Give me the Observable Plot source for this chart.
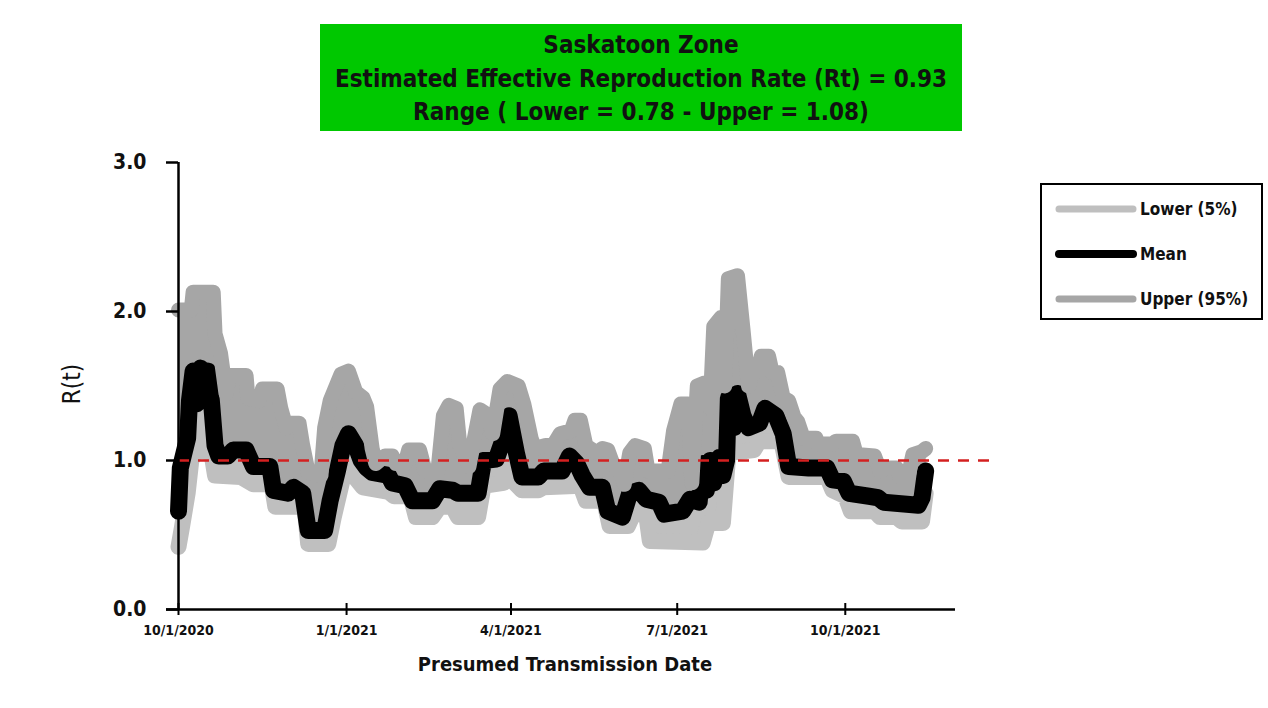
<!DOCTYPE html>
<html><head><meta charset="utf-8">
<script src="https://cdn.jsdelivr.net/npm/d3@7"></script>
<script src="https://cdn.jsdelivr.net/npm/@observablehq/plot@0.6"></script>
<style>
body{margin:0;background:#fff;width:1268px;height:708px;overflow:hidden;position:relative;font-family:"DejaVu Sans Condensed","Liberation Sans",sans-serif;color:#111;}
#title{position:absolute;left:320px;top:24px;width:642px;height:107px;background:#00c800;text-align:center;font-weight:bold;font-size:24px;line-height:33.5px;padding-top:5px;box-sizing:border-box;white-space:nowrap;}
#chart{position:absolute;left:0;top:0;}
#ylab{position:absolute;left:72px;top:384px;transform:translate(-50%,-50%) rotate(-90deg);font-size:24px;white-space:nowrap;}
#xlab{position:absolute;left:565px;top:664px;transform:translate(-50%,-50%);font-size:20px;font-weight:bold;white-space:nowrap;}
#legend{position:absolute;left:1040px;top:183px;width:223px;height:137px;border:2px solid #000;box-sizing:border-box;background:#fff;}
</style></head>
<body>
<div id="title"></div>
<div id="chart"></div>
<div id="ylab"></div>
<div id="xlab"></div>
<div id="legend"></div>
<script>
const titleLines = ["Saskatoon Zone", "Estimated Effective Reproduction Rate (Rt) = 0.93", "Range ( Lower = 0.78 - Upper = 1.08)"];
const yLabel = "R(t)";
const xLabel = "Presumed Transmission Date";
const yTicks = [0, 1, 2, 3];
const xTicks = ["2020-10-01", "2021-01-01", "2021-04-01", "2021-07-01", "2021-10-01"];
const xDomain = ["2020-10-01", "2021-11-30"];
const threshold = 1.0;
const seriesNames = ["Lower (5%)", "Mean", "Upper (95%)"];
const seriesColors = ["#bfbfbf", "#000000", "#a6a6a6"];

const upperPts = [
["2020-10-01",2.01],["2020-10-08",2.01],["2020-10-09",2.13],["2020-10-20",2.13],["2020-10-21",1.85],["2020-10-24",1.72],
["2020-10-27",1.45],["2020-10-29",1.57],["2020-11-07",1.57],["2020-11-08",1.42],["2020-11-14",1.40],["2020-11-16",1.48],
["2020-11-24",1.48],["2020-11-26",1.35],["2020-11-29",1.22],["2020-12-01",1.25],["2020-12-06",1.25],["2020-12-08",1.10],
["2020-12-11",0.92],["2020-12-18",0.90],["2020-12-20",1.22],["2020-12-23",1.40],["2020-12-29",1.58],["2021-01-02",1.60],
["2021-01-06",1.46],["2021-01-10",1.42],["2021-01-12",1.36],["2021-01-15",1.08],["2021-01-17",0.98],["2021-01-22",1.03],
["2021-01-26",1.03],["2021-01-28",0.98],["2021-02-02",0.98],["2021-02-04",1.07],["2021-02-10",1.07],["2021-02-13",0.93],
["2021-02-20",0.93],["2021-02-23",1.30],["2021-02-26",1.37],["2021-03-02",1.35],["2021-03-04",1.10],["2021-03-09",0.96],
["2021-03-12",1.15],["2021-03-15",1.34],["2021-03-20",1.30],["2021-03-22",1.18],["2021-03-26",1.48],["2021-03-30",1.53],
["2021-04-05",1.50],["2021-04-08",1.38],["2021-04-12",1.15],["2021-04-14",1.08],["2021-04-20",1.10],["2021-04-24",1.10],
["2021-04-28",1.18],["2021-05-04",1.20],["2021-05-06",1.27],["2021-05-09",1.27],["2021-05-12",1.10],["2021-05-18",1.05],
["2021-05-21",1.08],["2021-05-24",1.07],["2021-05-27",0.97],["2021-05-31",0.92],["2021-06-02",0.84],["2021-06-05",1.05],
["2021-06-08",1.10],["2021-06-13",1.08],["2021-06-15",0.93],["2021-06-26",0.93],["2021-06-29",1.20],["2021-07-03",1.38],
["2021-07-07",1.38],["2021-07-09",0.85],["2021-07-12",1.50],["2021-07-16",1.52],["2021-07-19",1.35],["2021-07-21",1.90],
["2021-07-25",1.96],["2021-07-27",1.50],["2021-07-29",2.22],["2021-08-03",2.24],["2021-08-06",1.88],["2021-08-09",1.50],
["2021-08-11",1.58],["2021-08-14",1.60],["2021-08-16",1.70],["2021-08-20",1.70],["2021-08-22",1.59],["2021-08-25",1.59],
["2021-08-28",1.42],["2021-08-31",1.40],["2021-09-03",1.29],["2021-09-05",1.26],["2021-09-08",1.15],["2021-09-15",1.15],
["2021-09-16",1.11],["2021-09-24",1.11],["2021-09-26",1.13],["2021-10-05",1.13],["2021-10-07",1.04],["2021-10-17",1.03],
["2021-10-20",0.93],["2021-10-24",0.95],["2021-10-29",0.95],["2021-10-31",0.89],["2021-11-04",0.87],["2021-11-07",1.04],
["2021-11-12",1.06],["2021-11-14",1.08]
];

const meanPts = [
["2020-10-01",0.66],["2020-10-02",0.95],["2020-10-04",1.05],["2020-10-06",1.15],["2020-10-07",1.40],["2020-10-09",1.60],
["2020-10-11",1.38],["2020-10-13",1.62],["2020-10-15",1.45],["2020-10-17",1.60],["2020-10-19",1.40],["2020-10-21",1.10],
["2020-10-23",1.03],["2020-10-28",1.03],["2020-10-31",1.07],["2020-11-07",1.07],["2020-11-11",0.96],["2020-11-20",0.96],
["2020-11-22",0.80],["2020-11-30",0.78],["2020-12-03",0.82],["2020-12-08",0.78],["2020-12-11",0.53],["2020-12-20",0.53],
["2020-12-23",0.73],["2020-12-27",0.93],["2020-12-30",1.10],["2021-01-02",1.18],["2021-01-06",1.10],["2021-01-09",1.00],
["2021-01-12",0.95],["2021-01-15",0.92],["2021-01-24",0.90],["2021-01-26",0.85],["2021-02-02",0.83],["2021-02-06",0.73],
["2021-02-17",0.73],["2021-02-21",0.81],["2021-02-28",0.80],["2021-03-03",0.78],["2021-03-14",0.78],["2021-03-17",1.00],
["2021-03-24",1.01],["2021-03-28",1.15],["2021-03-31",1.30],["2021-04-04",1.05],["2021-04-07",0.89],["2021-04-16",0.89],
["2021-04-19",0.93],["2021-04-29",0.93],["2021-05-03",1.03],["2021-05-07",0.98],["2021-05-10",0.90],["2021-05-14",0.82],
["2021-05-21",0.82],["2021-05-24",0.66],["2021-06-01",0.62],["2021-06-05",0.78],["2021-06-10",0.80],["2021-06-14",0.74],
["2021-06-21",0.72],["2021-06-24",0.64],["2021-07-04",0.66],["2021-07-08",0.74],["2021-07-13",0.72],["2021-07-15",0.98],
["2021-07-17",0.80],["2021-07-19",1.00],["2021-07-21",0.85],["2021-07-24",1.02],["2021-07-26",0.90],["2021-07-28",1.00],
["2021-07-29",1.42],["2021-08-01",1.22],["2021-08-03",1.45],["2021-08-06",1.30],["2021-08-09",1.22],
["2021-08-15",1.25],["2021-08-18",1.35],["2021-08-24",1.30],["2021-08-28",1.18],["2021-08-31",0.96],["2021-09-11",0.95],
["2021-09-21",0.95],["2021-09-24",0.87],["2021-09-30",0.86],["2021-10-03",0.78],["2021-10-14",0.76],["2021-10-19",0.75],
["2021-10-22",0.72],["2021-11-10",0.70],["2021-11-12",0.75],["2021-11-14",0.93]
];

const lowerPts = [
["2020-10-01",0.42],["2020-10-03",0.56],["2020-10-06",0.78],["2020-10-08",1.00],["2020-10-11",1.07],["2020-10-19",1.05],
["2020-10-21",0.90],["2020-11-04",0.89],["2020-11-11",0.84],["2020-11-21",0.84],["2020-11-23",0.69],["2020-12-09",0.69],
["2020-12-11",0.44],["2020-12-22",0.44],["2020-12-25",0.62],["2020-12-30",0.88],["2021-01-02",0.95],["2021-01-06",0.88],
["2021-01-10",0.82],["2021-01-24",0.79],["2021-01-27",0.76],["2021-02-05",0.76],["2021-02-08",0.62],["2021-02-17",0.62],
["2021-02-21",0.69],["2021-02-28",0.69],["2021-03-03",0.62],["2021-03-14",0.62],["2021-03-17",0.83],["2021-03-28",0.85],
["2021-03-31",1.00],["2021-04-03",0.85],["2021-04-07",0.80],["2021-04-16",0.80],["2021-04-19",0.82],["2021-05-09",0.83],
["2021-05-12",0.73],["2021-05-22",0.73],["2021-05-25",0.56],["2021-06-04",0.56],["2021-06-07",0.64],["2021-06-14",0.64],
["2021-06-16",0.46],["2021-07-15",0.45],["2021-07-18",0.58],["2021-07-26",0.58],["2021-07-29",1.05],["2021-08-12",1.07],
["2021-08-15",1.13],["2021-08-27",1.13],["2021-08-31",0.89],["2021-09-21",0.89],["2021-09-24",0.80],["2021-10-01",0.76],
["2021-10-04",0.66],["2021-10-17",0.66],["2021-10-20",0.62],["2021-10-29",0.62],["2021-11-01",0.59],["2021-11-12",0.59],
["2021-11-14",0.78]
];

const parse = d3.utcParse("%Y-%m-%d");
const toRows = pts => pts.map(([d, v]) => ({date: parse(d), value: v}));
const lowerRows = toRows(lowerPts), meanRows = toRows(meanPts), upperRows = toRows(upperPts);
const xTickDates = xTicks.map(parse);
const xStart = parse(xDomain[0]);
const xEnd = new Date(parse(xDomain[1]).getTime() + 8 * 3600 * 1000);
const FONT = '"DejaVu Sans Condensed","Liberation Sans",sans-serif';
const lineOpts = (color, sw) => ({x: "date", y: "value", stroke: color, strokeWidth: sw, strokeLinejoin: "round", strokeLinecap: "round", curve: "linear"});

// bands between the mean and each bound (the dense daily swings fill these regions)
const upperBand = [...upperRows, ...meanRows.slice().reverse()];
const lowerBand = [...meanRows, ...lowerRows.slice().reverse()];

const chart = Plot.plot({
  width: 1268, height: 708,
  marginLeft: 178, marginRight: 313, marginTop: 162, marginBottom: 99,
  style: {fontFamily: FONT, background: "transparent", color: "#111"},
  x: {type: "utc", domain: [xStart, xEnd]},
  y: {domain: [0, 3]},
  marks: [
    Plot.line(lowerBand, {x: "date", y: "value", fill: seriesColors[0], stroke: "none", curve: "linear"}),
    Plot.line(lowerRows, lineOpts(seriesColors[0], 16)),
    Plot.line(upperBand, {x: "date", y: "value", fill: seriesColors[2], stroke: "none", curve: "linear"}),
    Plot.line(meanRows, lineOpts(seriesColors[1], 17)),
    Plot.line(upperRows, lineOpts(seriesColors[2], 15)),
    Plot.ruleY([threshold], {stroke: "#d42020", strokeWidth: 2.5, strokeDasharray: "11,9", insetRight: -40}),
    Plot.ruleY([0], {stroke: "#000", strokeWidth: 2.5, insetLeft: -12}),
    Plot.ruleX([xStart], {y1: 0, y2: 3, stroke: "#000", strokeWidth: 2.5}),
    Plot.ruleX(xTickDates, {y1: 0, y2: 0, insetTop: -6, insetBottom: -6, stroke: "#000", strokeWidth: 2}),
    Plot.axisY({ticks: yTicks, tickFormat: d3.format(".1f"), tickSize: 12, tickPadding: 20, fontSize: 21, fontWeight: "bold", label: null, stroke: "#000", strokeWidth: 2.5, fill: "#111"}),
    Plot.axisX({ticks: xTickDates, tickFormat: d3.utcFormat("%-m/%-d/%Y"), tickSize: 0, tickPadding: 16, fontSize: 14, fontWeight: "bold", label: null, fill: "#111"})
  ]
});
document.getElementById("chart").appendChild(chart);

document.getElementById("title").innerHTML = titleLines.map(t => `<div>${t}</div>`).join("");
document.getElementById("ylab").textContent = yLabel;
document.getElementById("xlab").textContent = xLabel;

const legendYs = [24, 69, 114];
const legendWidths = [7, 8, 7];
let svg = `<svg width="219" height="133" xmlns="http://www.w3.org/2000/svg" style="position:absolute;left:0;top:0">`;
seriesNames.forEach((n, i) => {
  svg += `<line x1="17" x2="91" y1="${legendYs[i]}" y2="${legendYs[i]}" stroke="${seriesColors[i]}" stroke-width="${legendWidths[i]}" stroke-linecap="round"/>`;
  svg += `<text x="98" y="${legendYs[i]}" dy="0.35em" font-family='${FONT}' font-size="17" font-weight="bold" fill="#111">${n}</text>`;
});
svg += `</svg>`;
document.getElementById("legend").innerHTML = svg;
</script>
</body></html>
